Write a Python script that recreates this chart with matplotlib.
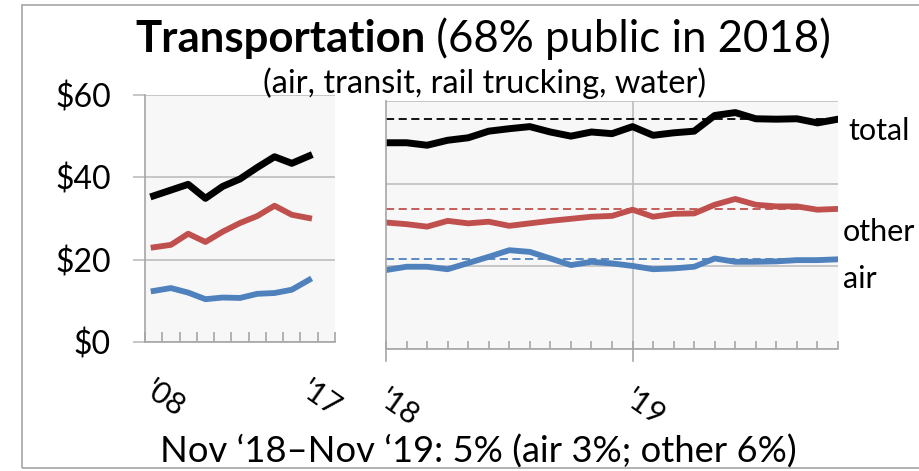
import matplotlib
matplotlib.use("Agg")
import matplotlib.pyplot as plt
from matplotlib.patches import Rectangle

plt.rcParams['font.family'] = ['Lato', 'DejaVu Sans']

# ---- data (billions $) ----
years = ['08', '09', '10', '11', '12', '13', '14', '15', '16', '17']
year_total = [35.5, 36.9, 38.3, 34.9, 37.8, 39.6, 42.4, 45.0, 43.4, 45.2]
year_other = [23.0, 23.6, 26.3, 24.3, 26.8, 28.9, 30.6, 33.1, 30.9, 30.1]
year_air = [12.4, 13.1, 12.0, 10.4, 10.8, 10.7, 11.7, 11.9, 12.7, 15.1]

# monthly, Jan 2018 .. Nov 2019
month_total = [49.9, 49.9, 49.3, 50.5, 51.1, 52.7, 53.3, 53.8, 52.5, 51.5, 52.5, 52.1,
               53.8, 51.7, 52.3, 52.7, 56.5, 57.2, 55.7, 55.6, 55.7, 54.7, 55.6]
month_other = [30.6, 30.2, 29.6, 31.0, 30.4, 30.8, 29.8, 30.4, 31.0, 31.5, 32.0, 32.2,
               33.7, 32.0, 32.7, 32.8, 34.9, 36.3, 34.9, 34.5, 34.5, 33.7, 33.9]
month_air = [19.1, 19.9, 19.9, 19.3, 20.8, 22.3, 23.9, 23.5, 21.9, 20.3, 21.1, 20.7,
             20.1, 19.3, 19.5, 19.9, 21.9, 21.1, 21.1, 21.2, 21.5, 21.5, 21.7]
month_ticks = {0: "'18", 12: "'19"}

BLACK, RED, BLUE = '#000000', '#C0504D', '#4F81BD'
GRID = '#BEBEBE'
BG = '#F7F7F7'
W, H = 920, 471

fig = plt.figure(figsize=(W / 100, H / 100), dpi=100)


def fx(px):
    return px / W


def fy(px):
    return 1 - px / H


def fit(txt, target_w):
    # scale font so the text spans target_w pixels
    r = fig.canvas.get_renderer()
    w = txt.get_window_extent(r).width
    txt.set_fontsize(txt.get_fontsize() * target_w / w)


# outer frame (right side runs off the picture)
fig.patches.append(Rectangle((fx(22), fy(468)), 1.2, fy(4.5) - fy(468),
                             transform=fig.transFigure, fill=False,
                             edgecolor='#A6A6A6', lw=1.2))

ax1 = fig.add_axes([fx(145), fy(342), fx(335) - fx(145), fy(95) - fy(342)])
ax2 = fig.add_axes([fx(386), fy(349), fx(838) - fx(386), fy(101) - fy(349)])

for ax in (ax1, ax2):
    ax.set_facecolor(BG)
    ax.set_ylim(0, 60)
    ax.set_yticks([0, 20, 40, 60])
    ax.yaxis.grid(True, color=GRID, lw=1.2)
    ax.set_axisbelow(True)
    for s in ('top', 'right'):
        ax.spines[s].set_visible(False)
    for s in ('left', 'bottom'):
        ax.spines[s].set_color('#A6A6A6')
        ax.spines[s].set_linewidth(1.2)

# left panel: annual
xi = list(range(len(years)))
ax1.set_xlim(-0.5, 10.5)
ax1.plot(xi, year_total, color=BLACK, lw=5.0)
ax1.plot(xi, year_other, color=RED, lw=4.2)
ax1.plot(xi, year_air, color=BLUE, lw=4.2)
ax1.set_yticklabels(['$0', '$20', '$40', '$60'])
ax1.tick_params(axis='y', length=8.6, width=1.2, color=GRID, pad=16, labelsize=23)
ax1.set_xticks([i - 0.5 for i in range(12)])
ax1.set_xticklabels([])
ax1.tick_params(axis='x', direction='in', length=7.5, width=1.2, color='#A6A6A6')
for i in (0, 9):
    ax1.text(i + 0.1, -8, "'" + years[i], ha='left', va='top', rotation=-35,
             rotation_mode='anchor', fontsize=22, clip_on=False)

# right panel: monthly
mi = list(range(len(month_total)))
ax2.set_xlim(0, len(mi) - 1)
ax2.plot(mi, month_total, color=BLACK, lw=5.0)
ax2.plot(mi, month_other, color=RED, lw=4.2)
ax2.plot(mi, month_air, color=BLUE, lw=4.2)
# dashed reference at the latest value
for vals, c in ((month_total, BLACK), (month_other, RED), (month_air, BLUE)):
    ax2.axhline(vals[-1], color=c, lw=1.3, ls=(0, (4.5, 2.5)), zorder=1.5)
ax2.set_yticklabels([])
ax2.tick_params(axis='y', length=0)
ax2.set_xticks(mi)
ax2.set_xticklabels([])
ax2.tick_params(axis='x', direction='in', length=6, width=1.2, color='#A6A6A6')
ax2.axvline(12, color=GRID, lw=1.2, zorder=0.5)
for i, lab in month_ticks.items():
    ax2.plot([i, i], [0, -3], color='#A6A6A6', lw=1.2, clip_on=False)
    ax2.text(i + 0.15, -8.5, lab, ha='left', va='top', rotation=-35,
             rotation_mode='anchor', fontsize=22, clip_on=False)

# series labels
fig.text(fx(848), fy(131), 'total', fontsize=22, va='center', ha='left')
fig.text(fx(843), fy(232), 'other', fontsize=22, va='center', ha='left')
fig.text(fx(843), fy(279), 'air', fontsize=22, va='center', ha='left')

# title: bold word + regular rest, scaled to the reference width
t1 = fig.text(fx(135), fy(52), 'Transportation', fontweight='bold',
              fontsize=28, ha='left', va='baseline')
t2 = fig.text(0, fy(52), ' (68% public in 2018)', fontsize=28,
              ha='left', va='baseline')
r = fig.canvas.get_renderer()
total_w = t1.get_window_extent(r).width + t2.get_window_extent(r).width
scale = 697 / total_w
t1.set_fontsize(28 * scale)
t2.set_fontsize(28 * scale)
t2.set_x(t1.get_window_extent(r).x1 / W)

sub = fig.text(fx(263), fy(93), '(air, transit, rail trucking, water)',
               fontsize=18, ha='left', va='baseline')
fit(sub, 442)

note = fig.text(fx(160), fy(463), 'Nov \u201818\u2013Nov \u201819: 5% (air 3%; other 6%)',
                fontsize=22, ha='left', va='baseline')
fit(note, 635)

fig.savefig('out.png', dpi=100)
